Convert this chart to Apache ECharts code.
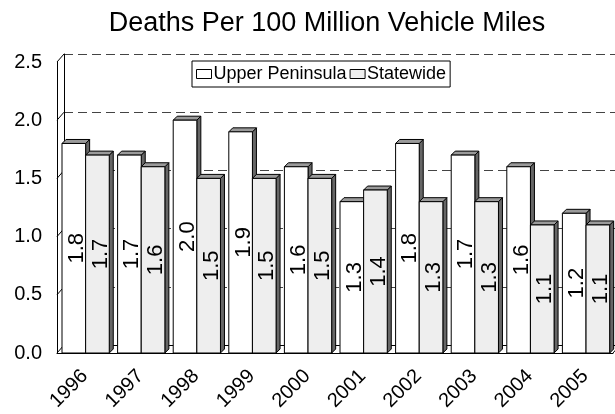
<!DOCTYPE html>
<html>
<head>
<meta charset="utf-8">
<script src="https://cdn.jsdelivr.net/npm/echarts@6/dist/echarts.min.js"></script>
<style>
  html, body { margin: 0; padding: 0; background: #fff; }
  #chart { width: 615px; height: 414px; }
</style>
</head>
<body>
<div id="chart"></div>
<script>
// 数据
const years = ['1996', '1997', '1998', '1999', '2000', '2001', '2002', '2003', '2004', '2005']
const upperPeninsula = [1.8, 1.7, 2.0, 1.9, 1.6, 1.3, 1.8, 1.7, 1.6, 1.2]
const statewide = [1.7, 1.6, 1.5, 1.5, 1.5, 1.4, 1.3, 1.3, 1.1, 1.1]
const yTicks = [0, 0.5, 1.0, 1.5, 2.0, 2.5]

const FONT = '"Liberation Sans", Arial, sans-serif'
const DEPTH = 4 // bar depth in px
const WALL_DX = 7
const WALL_DY = 8

// 3D-ish bar drawn through the axis scale
function barRenderer(offsetRatio, faceColor) {
  return function (params, api) {
    const idx = api.value(0)
    const val = api.value(1)
    const base = api.coord([idx, 0])
    const top = api.coord([idx, val])
    const band = api.size([1, 0])[0]
    const w = band * 0.425
    const left = base[0] - band / 2 + band * offsetRatio
    const y0 = base[1]
    const y1 = top[1]
    const d = DEPTH
    return {
      type: 'group',
      children: [
        {
          type: 'polygon',
          shape: { points: [[left + w, y1], [left + w + d, y1 - d], [left + w + d, y0 - d], [left + w, y0]] },
          style: { fill: '#666', stroke: '#000', lineWidth: 1 }
        },
        {
          type: 'polygon',
          shape: { points: [[left, y1], [left + d, y1 - d], [left + w + d, y1 - d], [left + w, y1]] },
          style: { fill: '#9a9a9a', stroke: '#000', lineWidth: 1 }
        },
        {
          type: 'rect',
          shape: { x: left, y: y1, width: w, height: y0 - y1 },
          style: { fill: faceColor, stroke: '#000', lineWidth: 1 }
        },
        {
          type: 'text',
          x: left + w / 2 + 3,
          y: (y0 + y1) / 2,
          rotation: Math.PI / 2,
          style: {
            text: val.toFixed(1),
            font: '22px ' + FONT,
            fill: '#000',
            align: 'center',
            verticalAlign: 'middle'
          }
        }
      ]
    }
  }
}

// side wall gridlines and floor edges
function wallRenderer(params, api) {
  const v = api.value(0)
  const cs = params.coordSys
  const y = api.coord([0, v])[1]
  const children = [{
    type: 'line',
    shape: { x1: cs.x, y1: y, x2: cs.x + WALL_DX, y2: y - WALL_DY },
    style: { stroke: '#000', lineWidth: 1 }
  }]
  if (v === 0) {
    children.push({
      type: 'line',
      shape: { x1: cs.x + cs.width, y1: y, x2: cs.x + cs.width + WALL_DX, y2: y - WALL_DY },
      style: { stroke: '#000', lineWidth: 1 }
    })
  }
  return { type: 'group', children }
}

const options = {
  animation: false,
  backgroundColor: '#fff',
  title: {
    text: 'Deaths Per 100 Million Vehicle Miles',
    left: 322,
    top: 5,
    textAlign: 'center',
    textStyle: { fontFamily: FONT, fontSize: 27, fontWeight: 'normal', color: '#000' }
  },
  legend: {
    left: 192,
    top: 61,
    orient: 'horizontal',
    itemWidth: 15,
    itemHeight: 9,
    itemGap: 3,
    padding: [4, 4, 4, 4],
    backgroundColor: '#fff',
    borderColor: '#000',
    borderWidth: 1,
    borderRadius: 0,
    textStyle: { fontFamily: FONT, fontSize: 18, color: '#000', padding: [0, 0, 0, -3] },
    data: [
      { name: 'Upper Peninsula', icon: 'rect', itemStyle: { color: '#fff', borderColor: '#000', borderWidth: 1 } },
      { name: 'Statewide', icon: 'rect', itemStyle: { color: '#eee', borderColor: '#000', borderWidth: 1 } }
    ]
  },
  grid: [
    { left: 57, top: 62, width: 556, height: 291 },
    { left: 57 + WALL_DX, top: 62 - WALL_DY, width: 556, height: 291 }
  ],
  xAxis: [
    {
      type: 'category',
      gridIndex: 0,
      data: years,
      axisLine: { show: true, lineStyle: { color: '#000', width: 1 } },
      axisTick: { show: false },
      axisLabel: { rotate: 45, margin: 20, fontFamily: FONT, fontSize: 20, color: '#000', interval: 0 }
    },
    {
      type: 'category',
      gridIndex: 1,
      data: years,
      axisLine: { show: true, lineStyle: { color: '#000', width: 1 } },
      axisTick: { show: false },
      axisLabel: { show: false }
    }
  ],
  yAxis: [
    {
      type: 'value',
      gridIndex: 0,
      min: 0,
      max: 2.5,
      interval: 0.5,
      axisLine: { show: true, lineStyle: { color: '#000', width: 1 } },
      axisTick: { show: false },
      splitLine: { show: false },
      axisLabel: {
        margin: 15,
        fontFamily: FONT,
        fontSize: 20,
        color: '#000',
        formatter: v => v.toFixed(1)
      }
    },
    {
      type: 'value',
      gridIndex: 1,
      min: 0,
      max: 2.5,
      interval: 0.5,
      axisLine: { show: true, lineStyle: { color: '#000', width: 1 } },
      axisTick: { show: false },
      axisLabel: { show: false },
      splitLine: { show: true, lineStyle: { color: '#444', width: 1, type: [9, 5] } }
    }
  ],
  series: [
    {
      name: 'wall',
      type: 'custom',
      xAxisIndex: 0,
      yAxisIndex: 0,
      z: 1,
      silent: true,
      data: yTicks.map(v => [v]),
      renderItem: wallRenderer
    },
    {
      name: 'Upper Peninsula',
      type: 'custom',
      xAxisIndex: 0,
      yAxisIndex: 0,
      z: 3,
      itemStyle: { color: '#fff', borderColor: '#000' },
      data: upperPeninsula.map((v, i) => [i, v]),
      renderItem: barRenderer(0.09, '#fff')
    },
    {
      name: 'Statewide',
      type: 'custom',
      xAxisIndex: 0,
      yAxisIndex: 0,
      z: 4,
      itemStyle: { color: '#eee', borderColor: '#000' },
      data: statewide.map((v, i) => [i, v]),
      renderItem: barRenderer(0.515, '#eee')
    }
  ]
}

const mychart = echarts.init(document.getElementById('chart'))
mychart.setOption(options)
window.addEventListener('resize', () => {
  mychart.resize()
})
</script>
</body>
</html>
